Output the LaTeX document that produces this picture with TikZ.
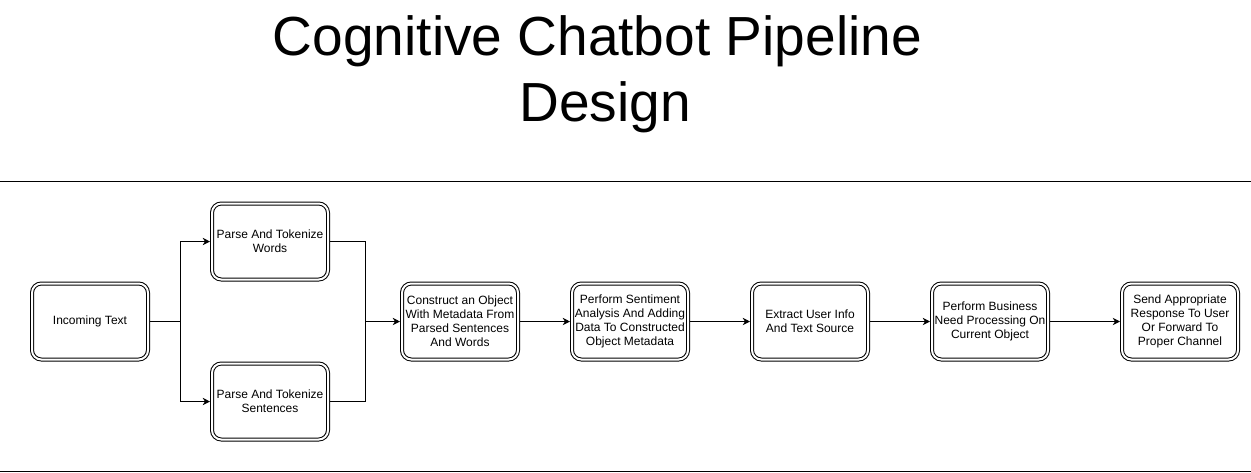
\documentclass[tikz,border=0pt]{standalone}
\usepackage{fontspec}
\setmainfont{Liberation Sans}
\usetikzlibrary{arrows.meta}

\tikzset{
  stepbox/.style={draw, double, double distance=1.5pt, line width=0.75pt,
    rounded corners=7pt, minimum width=87pt, minimum height=57pt,
    inner sep=1pt, outer sep=1.5pt, align=center,
    font=\fontsize{9}{10.5}\selectfont},
  link/.style={line width=0.75pt}
}

\begin{document}
\begin{tikzpicture}[x=0.75pt, y=-0.75pt, >={Stealth[length=5.5pt,width=5.5pt]}]
\useasboundingbox (0,0) rectangle (1251,472);

\node[align=center, font=\fontsize{41.3}{49.5}\selectfont] (title) at (605,74)
  {Cognitive Chatbot Pipeline\rule{11.4pt}{0pt}\\Design};
\draw[link] (0,181)--(1251,181);
\draw[link] (0,471)--(1251,471);

\node[stepbox] (incoming) at (90,321.5) {Incoming Text};
\node[stepbox] (words) at (270,241.5) {Parse And Tokenize\\Words};
\node[stepbox] (sentences) at (270,401.5) {Parse And Tokenize\\Sentences};
\node[stepbox] (construct) at (460,321.5)
  {Construct an Object\\With Metadata From\\Parsed Sentences\\And Words};
\node[stepbox] (sentiment) at (630,321.5)
  {Perform Sentiment\\Analysis And Adding\\Data To Constructed\\Object Metadata};
\node[stepbox] (extract) at (810,321.5) {Extract User Info\\And Text Source};
\node[stepbox] (business) at (990,321.5)
  {Perform Business\\Need Processing On\\Current Object};
\node[stepbox] (respond) at (1180,321.5)
  {Send Appropriate\\Response To User\\Or Forward To\\Proper Channel};

\coordinate (split) at (180,321.5);
\coordinate (merge) at (365,321.5);

% fork into the two parsers
\draw[link] (incoming)--(split);
\draw[link, ->] (split)|-(words);
\draw[link, ->] (split)|-(sentences);
% join again
\draw[link] (words)-|(merge);
\draw[link] (sentences)-|(merge);
\draw[link, ->] (merge)--(construct);

\draw[link, ->] (construct)--(sentiment);
\draw[link, ->] (sentiment)--(extract);
\draw[link, ->] (extract)--(business);
\draw[link, ->] (business)--(respond);

\end{tikzpicture}
\end{document}
